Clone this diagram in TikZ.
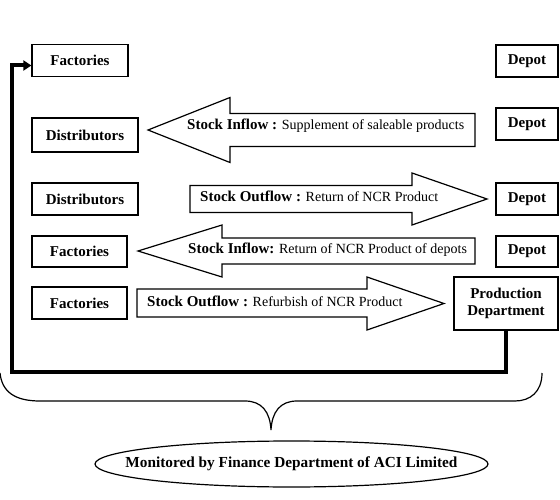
\documentclass[tikz,border=0pt]{standalone}
\usepackage{fontspec}
\setmainfont{Liberation Serif}
\usetikzlibrary{arrows.meta,shapes.geometric}

\tikzset{
  box/.style={draw,line width=1.2pt,inner sep=0pt,minimum height=32pt,font=\fontsize{15}{17}\selectfont\bfseries},
  bigarrow/.style={draw,line width=1.2pt},
  flowtext/.style={anchor=west,inner sep=0pt,font=\fontsize{14}{16}\selectfont},
}

\begin{document}
\begin{tikzpicture}[x=1pt,y=-1pt]
\useasboundingbox (0,0) rectangle (560,500);

\node[box,minimum width=96pt] (fac1) at (80,60.5) {Factories};
\node[box,minimum width=62pt] (dep1) at (527,61) {Depot};
\node[box,minimum width=106pt,minimum height=34pt] (dis1) at (85,135) {Distributors};
\node[box,minimum width=62pt] (dep2) at (527,124) {Depot};
\node[box,minimum width=106pt] (dis2) at (85,199) {Distributors};
\node[box,minimum width=62pt] (dep3) at (527,199) {Depot};
\node[box,minimum width=95pt,minimum height=31pt] (fac2) at (79.5,251.5) {Factories};
\node[box,minimum width=62pt,minimum height=31pt] (dep4) at (527,251.5) {Depot};
\node[box,minimum width=95pt] (fac3) at (79.5,303) {Factories};
\node[box,minimum width=104pt,minimum height=53pt,align=center] (prod) at (506,303.5) {Production\\Department};

% stock flows
\draw[bigarrow] (148,130) -- (230,97.5) -- (230,113.5) -- (475,113.5) -- (475,146.5) -- (230,146.5) -- (230,162.5) -- cycle;
\draw[bigarrow] (190,185.5) -- (412,185.5) -- (412,173) -- (487,199) -- (412,225) -- (412,212.5) -- (190,212.5) -- cycle;
\draw[bigarrow] (138,251) -- (222,225) -- (222,238) -- (475,238) -- (475,264) -- (222,264) -- (222,277) -- cycle;
\draw[bigarrow] (137,289) -- (367,289) -- (367,277) -- (444,303.5) -- (367,330) -- (367,317) -- (137,317) -- cycle;

\node[flowtext] (txt1) at (187,126) {{\fontsize{15}{17}\selectfont\bfseries Stock Inflow :} Supplement of saleable products};
\node[flowtext] (txt2) at (200,196) {{\fontsize{15}{17}\selectfont\bfseries Stock Outflow :} Return of NCR Product};
\node[flowtext] (txt3) at (188,250) {{\fontsize{15}{17}\selectfont\bfseries Stock Inflow:} Return of NCR Product of depots};
\node[flowtext] (txt4) at (147,301) {{\fontsize{15}{17}\selectfont\bfseries Stock Outflow :} Refurbish of NCR Product};

% loop back
\coordinate (loopbl) at (12,372);
\draw[line width=4pt,-{Triangle[length=8pt,width=10pt]}] (prod.south) |- (loopbl) |- ([yshift=-5pt]fac1.west);

% brace
\draw[line width=1.2pt] (0,373) .. controls (2,392) and (15,401) .. (40,401) -- (245,401)
  .. controls (262,401) and (270,412) .. (271,430)
  .. controls (272,412) and (280,401) .. (297,401) -- (515,401)
  .. controls (530,401) and (542,392) .. (542,373);

\node[draw,ellipse,line width=1.2pt,minimum width=393pt,minimum height=46pt,inner sep=0pt] (mon) at (291.5,464) {};
\node[inner sep=0pt,font=\fontsize{15.3}{17}\selectfont\bfseries] (montext) at (mon) {Monitored by Finance Department of ACI Limited};
\end{tikzpicture}
\end{document}
